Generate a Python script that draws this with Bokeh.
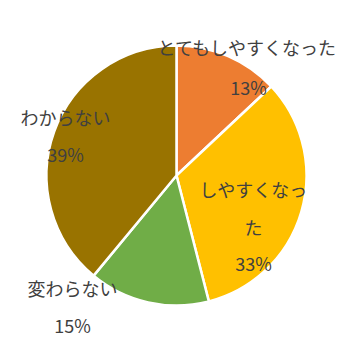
import math
from bokeh.plotting import figure
from bokeh.models import ColumnDataSource, Range1d
from bokeh.core.properties import value
from bokeh.embed import file_html
from bokeh.resources import INLINE

categories = ["とてもしやすくなった", "しやすくなった", "変わらない", "わからない"]
percents = [13, 33, 15, 39]
colors = ["#ED7D31", "#FFC000", "#70AD47", "#997300"]

# label layout (text lines and their pixel-space anchor positions)
label_lines = [["とてもしやすくなった", "13%"],
               ["しやすくなっ", "た", "33%"],
               ["変わらない", "15%"],
               ["わからない", "39%"]]
label_pos = [[(247, 46), (248, 86)],
             [(253, 188), (253, 226), (253, 262)],
             [(72, 287), (72, 324)],
             [(65, 116), (65, 153)]]

total = sum(percents)
starts, ends = [], []
cum = 0
for v in percents:
    starts.append(math.pi / 2 - 2 * math.pi * cum / total)
    cum += v
    ends.append(math.pi / 2 - 2 * math.pi * cum / total)

W = H = 352
p = figure(width=W, height=H, output_backend="svg", toolbar_location=None,
           x_range=Range1d(0, W), y_range=Range1d(H, 0),
           min_border=0, outline_line_color=None)
p.axis.visible = False
p.grid.visible = False
p.background_fill_color = "white"
p.border_fill_color = "white"

src = ColumnDataSource(dict(start=starts, end=ends, color=colors, cat=categories))
p.wedge(x=176, y=175, radius=130, start_angle="start", end_angle="end",
        direction="clock",
        fill_color="color", line_color="white", line_width=2.5, source=src)

xs, ys, ts = [], [], []
for lines, poss in zip(label_lines, label_pos):
    for t, (x, y) in zip(lines, poss):
        xs.append(x); ys.append(y); ts.append(t)
p.text(x=xs, y=ys, text=ts, text_align="center", text_baseline="middle",
       text_font=value("Noto Sans CJK JP"), text_font_size="18px",
       text_color="#404040")

open("out.html", "w").write(file_html(p, INLINE))
